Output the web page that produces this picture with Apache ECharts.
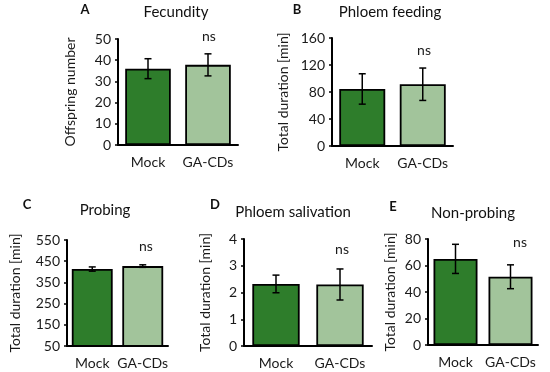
<!DOCTYPE html>
<html><head><meta charset="utf-8">
<script src="https://cdn.jsdelivr.net/npm/echarts@6/dist/echarts.min.js"></script>
<style>html,body{margin:0;padding:0;background:#fff}#c{width:550px;height:372px}</style>
</head><body><div id="c"></div>
<script>
const categories = ['Mock', 'GA-CDs'];
const panelLetters = ['A', 'B', 'C', 'D', 'E'];
const panelTitles = ['Fecundity', 'Phloem feeding', 'Probing', 'Phloem salivation', 'Non-probing'];
const yAxisNames = ['Offspring number', 'Total duration [min]', 'Total duration [min]', 'Total duration [min]', 'Total duration [min]'];
const fecundityMeans = [36, 37.8];
const fecundityErr = [4.7, 5.2];
const phloemFeedingMeans = [84.5, 91.5];
const phloemFeedingErr = [22.5, 24];
const probingMeans = [413, 427];
const probingErr = [10, 6];
const salivationMeans = [2.32, 2.3];
const salivationErr = [0.33, 0.58];
const nonProbingMeans = [65, 51.5];
const nonProbingErr = [11, 9];
const yMin = [0, 0, 50, 0, 0];
const yMax = [50, 160, 550, 4, 80];
const yInterval = [10, 40, 100, 1, 20];
const sigLabel = 'ns';

const means = [fecundityMeans, phloemFeedingMeans, probingMeans, salivationMeans, nonProbingMeans];
const errs = [fecundityErr, phloemFeedingErr, probingErr, salivationErr, nonProbingErr];

const grids = [
  {left: 118, top: 39, width: 120, height: 106, gap: '24%'},
  {left: 332, top: 38, width: 121, height: 108, gap: '24%'},
  {left: 67, top: 240, width: 101, height: 106, gap: '19%'},
  {left: 244, top: 239, width: 128, height: 107, gap: '26%'},
  {left: 428, top: 239, width: 110, height: 106, gap: '20%'}
];
const titlePos = [[176, 5], [390, 5], [105, 203], [293, 205], [473, 206]];
const letterPos = [[85, 3], [297, 3], [27, 198], [215, 198], [393, 200]];
const nsPos = [[209, 29], [424, 43], [146, 239], [342, 242], [520, 235]];
const yNamePos = [70, 283, 15, 205, 390];

const colors = ['#2e7d2b', '#a2c49b'];
const font = 'Lato, "Open Sans", sans-serif';
const fs = 14;

const option = {
  animation: false,
  grid: grids.map(g => ({left: g.left, top: g.top, width: g.width, height: g.height})),
  xAxis: grids.map((g, i) => ({
    type: 'category', gridIndex: i, data: categories,
    axisLine: {lineStyle: {color: '#000', width: 2}},
    axisTick: {show: false},
    axisLabel: {color: '#1a1a1a', fontSize: fs, fontFamily: font, margin: 10, interval: 0}
  })),
  yAxis: grids.map((g, i) => ({
    type: 'value', gridIndex: i, min: yMin[i], max: yMax[i], interval: yInterval[i],
    axisLine: {show: true, lineStyle: {color: '#000', width: 2}},
    axisTick: {show: true, length: 3, lineStyle: {color: '#000', width: 1.5}},
    splitLine: {show: false},
    axisLabel: {color: '#1a1a1a', fontSize: fs, fontFamily: font, margin: 7}
  })),
  series: [],
  graphic: []
};

means.forEach((m, i) => {
  option.series.push({
    type: 'bar', xAxisIndex: i, yAxisIndex: i, barCategoryGap: grids[i].gap,
    data: m.map((v, k) => ({value: v, itemStyle: {color: colors[k]}})),
    itemStyle: {borderColor: '#000', borderWidth: 1.8},
    z: 2
  });
  option.series.push({
    type: 'custom', xAxisIndex: i, yAxisIndex: i, z: 5,
    data: m.map((v, k) => [k, v - errs[i][k], v + errs[i][k]]),
    renderItem: (params, api) => {
      const lo = api.coord([api.value(0), api.value(1)]);
      const hi = api.coord([api.value(0), api.value(2)]);
      const x = lo[0], c = 3.5;
      const st = {stroke: '#000', lineWidth: 1.5};
      return {type: 'group', children: [
        {type: 'line', shape: {x1: x, y1: lo[1], x2: x, y2: hi[1]}, style: st},
        {type: 'line', shape: {x1: x - c, y1: lo[1], x2: x + c, y2: lo[1]}, style: st},
        {type: 'line', shape: {x1: x - c, y1: hi[1], x2: x + c, y2: hi[1]}, style: st}
      ]};
    }
  });
  option.graphic.push({type: 'text', x: titlePos[i][0], y: titlePos[i][1],
    style: {text: panelTitles[i], font: '15px ' + font, fill: '#111', textAlign: 'center'}});
  option.graphic.push({type: 'text', x: letterPos[i][0], y: letterPos[i][1],
    style: {text: panelLetters[i], font: 'bold 13px ' + font, fill: '#111', textAlign: 'center'}});
  option.graphic.push({type: 'text', x: nsPos[i][0], y: nsPos[i][1],
    style: {text: sigLabel, font: fs + 'px ' + font, fill: '#1a1a1a', textAlign: 'center'}});
  option.graphic.push({type: 'text', x: yNamePos[i], y: grids[i].top + grids[i].height / 2, rotation: Math.PI / 2,
    style: {text: yAxisNames[i], font: fs + 'px ' + font, fill: '#1a1a1a', textAlign: 'center', textVerticalAlign: 'middle'}});
});

echarts.init(document.getElementById('c'), null, {renderer: 'canvas'}).setOption(option);
</script></body></html>
